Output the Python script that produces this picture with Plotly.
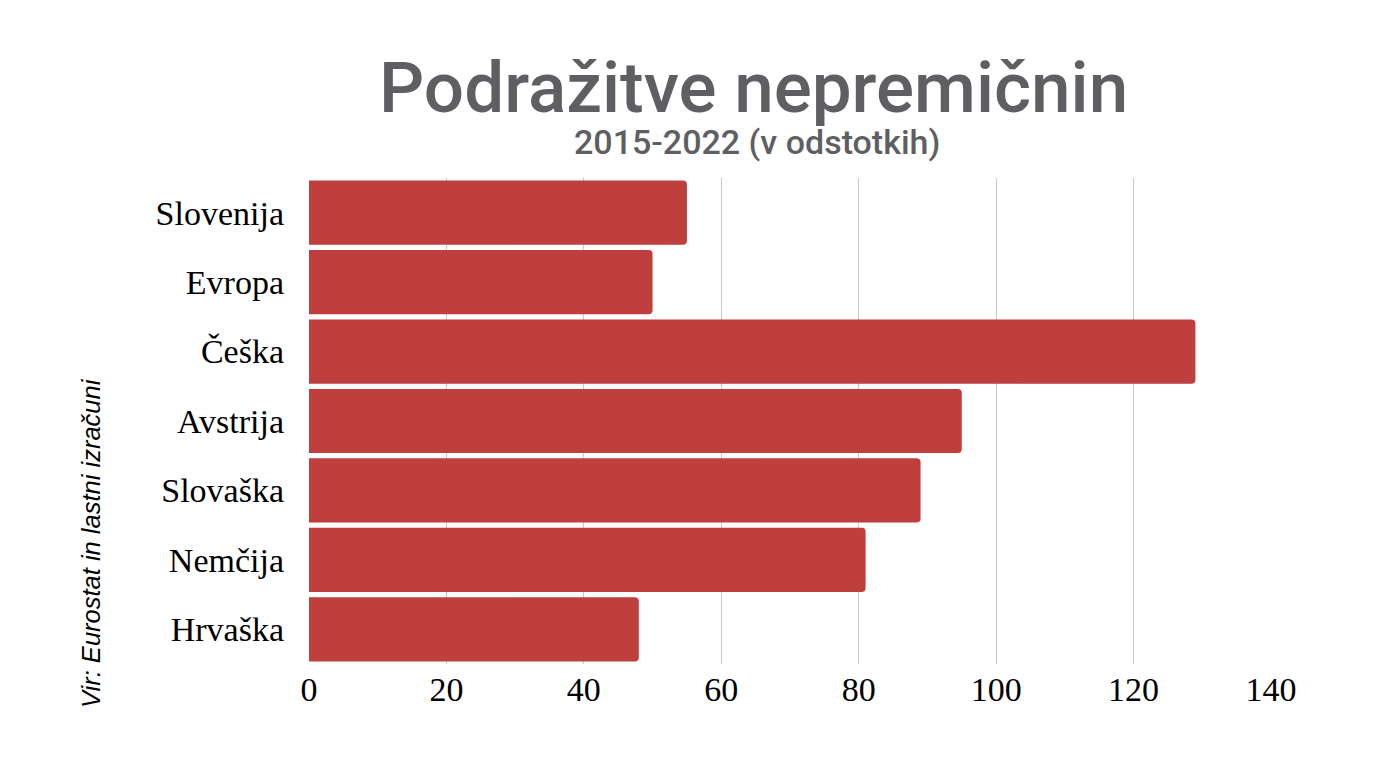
import plotly.graph_objects as go

# data
countries = ["Slovenija", "Evropa", "Češka", "Avstrija", "Slovaška", "Nemčija", "Hrvaška"]
growth_pct = [55, 50, 129, 95, 89, 81, 48]
x_ticks = [0, 20, 40, 60, 80, 100, 120, 140]

bar_color = "#bf3e3e"
title_gray = "#5f5f63"
serif = "Liberation Serif, DejaVu Serif, serif"
sans = "Roboto, Liberation Sans, Arial, sans-serif"
sans_plain = "Liberation Sans, Arial, sans-serif"

fig = go.Figure(
    go.Bar(
        x=growth_pct,
        y=countries,
        orientation="h",
        marker=dict(color=bar_color, line=dict(width=0)),
        hoverinfo="x+y",
    )
)

fig.update_layout(
    width=1400,
    height=770,
    paper_bgcolor="white",
    plot_bgcolor="white",
    margin=dict(l=301, r=137, t=170, b=114),
    bargap=0.075,
    barcornerradius=4,
    showlegend=False,
    annotations=[
        dict(text="Podražitve nepremičnin", xref="paper", yref="paper",
             x=0.5, y=1.0, xshift=-37, yshift=91, showarrow=False,
             xanchor="center", yanchor="middle",
             font=dict(family=sans, size=71, color=title_gray, weight=500)),
        dict(text="2015-2022 (v odstotkih)", xref="paper", yref="paper",
             x=0.5, y=1.0, xshift=-33, yshift=36, showarrow=False,
             xanchor="center", yanchor="middle",
             font=dict(family=sans, size=34, color=title_gray, weight=500)),
        dict(text="<i>Vir: Eurostat in lastni izračuni</i>", xref="paper", yref="paper",
             x=0, y=0, xshift=-218, yshift=-46, textangle=-90, showarrow=False,
             xanchor="center", yanchor="bottom",
             font=dict(family=sans_plain, size=25.5, color="black")),
    ],
)

fig.update_xaxes(
    range=[0, 140],
    tickvals=x_ticks,
    showgrid=True,
    gridcolor="#c8c8c8",
    gridwidth=1,
    zeroline=False,
    showline=False,
    ticks="",
    ticklabelstandoff=2,
    tickfont=dict(family=serif, size=34, color="black"),
    fixedrange=True,
)

fig.update_yaxes(
    categoryorder="array",
    categoryarray=countries,
    autorange="reversed",
    showgrid=False,
    zeroline=False,
    showline=False,
    ticks="",
    ticklabelstandoff=24,
    tickfont=dict(family=serif, size=34, color="black"),
    fixedrange=True,
)

fig.write_html("out.html")
